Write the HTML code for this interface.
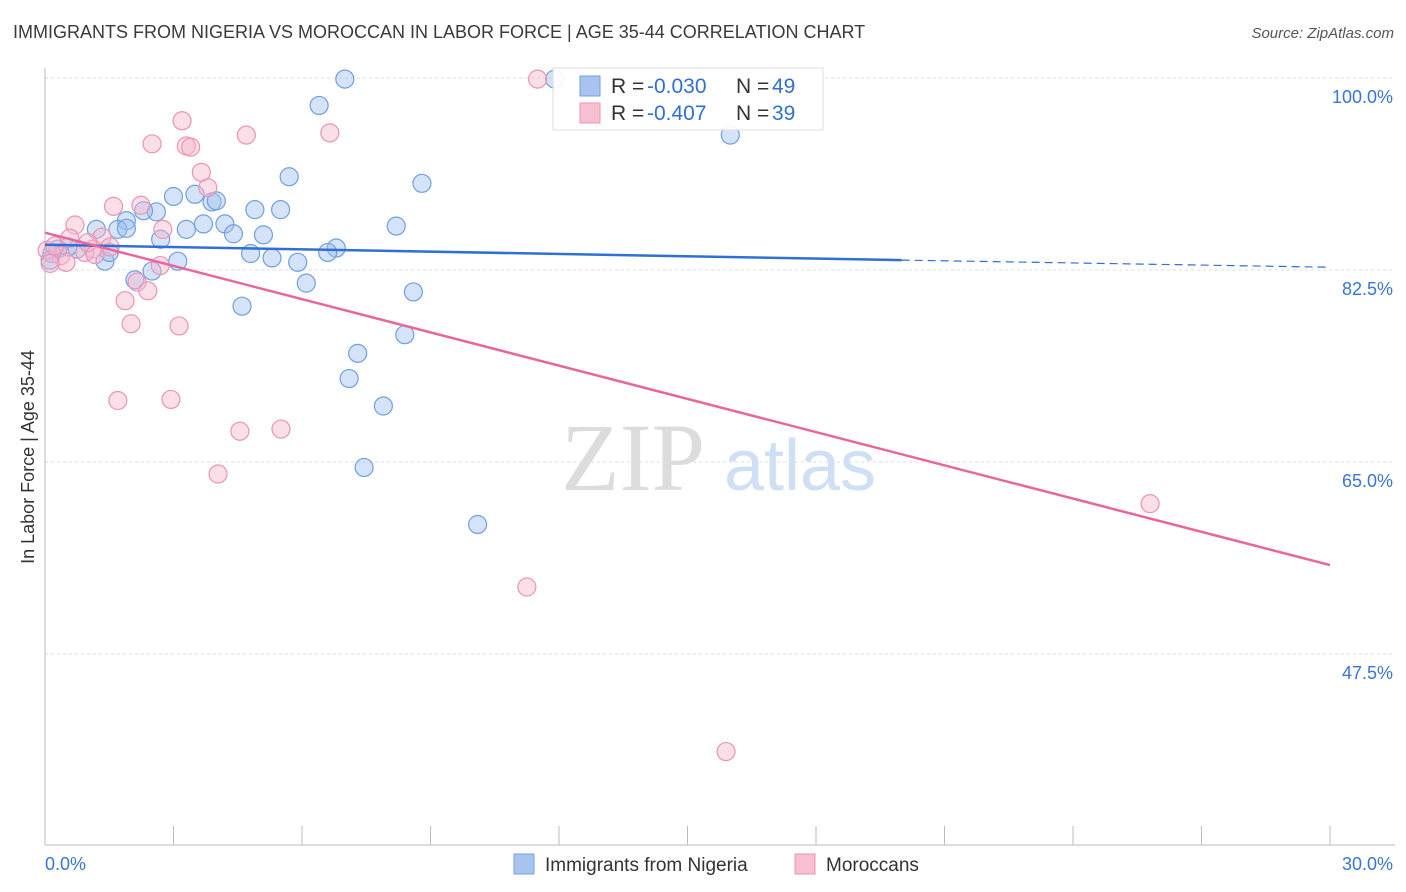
<!DOCTYPE html>
<html><head><meta charset="utf-8"><style>
body{margin:0;background:#fff;font-family:"Liberation Sans",sans-serif;}
#wrap{position:relative;width:1406px;height:892px;overflow:hidden;}
.t{position:absolute;white-space:nowrap;}
</style></head><body>
<div id="wrap">
<div class="t" style="left:13px;top:22px;font-size:18px;color:#3a3a3a;">IMMIGRANTS FROM NIGERIA VS MOROCCAN IN LABOR FORCE | AGE 35-44 CORRELATION CHART</div>
<div class="t" style="right:12px;top:25px;font-size:15px;color:#555;font-style:italic;">Source: ZipAtlas.com</div>
<svg id="svg" width="1406" height="892" style="position:absolute;left:0;top:0"></svg>
</div>
<script>
const xTicks=[0,3,6,9,12,15,18,21,24,27,30];
const yTicks=[100,82.5,65,47.5];
const yTickLabels=["100.0%","82.5%","65.0%","47.5%"];
const nigeriaX=[7.0,6.4,11.9,16.0,5.7,8.8,3.0,3.5,3.9,4.0,2.6,2.3,1.9,1.7,1.2,1.9,3.3,3.7,4.2,4.4,4.9,5.5,5.1,8.2,2.7,6.8,6.6,4.8,5.3,5.9,3.1,2.5,1.4,1.5,0.75,0.54,0.3,0.16,0.12,2.1,6.1,8.6,4.6,8.4,7.3,7.1,7.9,7.45,10.1];
const nigeriaY=[99.9,97.5,99.9,94.8,91.0,90.4,89.2,89.4,88.7,88.8,87.8,87.9,87.0,86.2,86.2,86.3,86.2,86.7,86.7,85.8,88.0,88.0,85.7,86.5,85.3,84.5,84.1,84.0,83.6,83.2,83.3,82.4,83.3,84.1,84.4,84.6,84.4,84.0,83.4,81.6,81.3,80.5,79.2,76.6,74.9,72.6,70.1,64.5,59.3];
const moroccoX=[11.5,4.7,6.65,3.2,2.5,3.3,3.4,3.65,3.8,1.6,2.24,0.7,2.75,1.33,1.12,0.93,0.37,0.49,1.52,2.69,2.15,2.4,1.87,2.01,3.13,1.7,2.94,4.55,5.51,4.04,25.8,11.25,15.9,0.05,0.23,1.0,1.17,0.58,0.12];
const moroccoY=[99.9,94.8,95.0,96.1,94.0,93.8,93.7,91.4,90.0,88.3,88.4,86.6,86.2,85.5,84.4,84.1,83.8,83.2,84.6,82.9,81.4,80.6,79.7,77.6,77.4,70.6,70.7,67.8,68.0,63.9,61.2,53.6,38.6,84.3,84.7,85.0,83.9,85.4,83.1];
const nigeriaLine=[[0,84.8],[20,83.4]];
const nigeriaDash=[[20,83.4],[30,82.75]];
const moroccoLine=[[0,85.9],[30,55.6]];

const X0=45,X1=1330,Y0=78,PPY=10.97;
const xs=v=>X0+(X1-X0)*v/30;
const ys=v=>Y0+(100-v)*PPY;
const svg=document.getElementById('svg');
const NS='http://www.w3.org/2000/svg';
function mk(tag,attrs){const e=document.createElementNS(NS,tag);for(const k in attrs)e.setAttribute(k,attrs[k]);svg.appendChild(e);return e;}
yTicks.forEach((v,i)=>{
 const g=mk('line',{x1:X0,x2:1395,y1:ys(v),y2:ys(v),stroke:'#dcdcdc','stroke-dasharray':'3,3'});
 
 
 const t=mk('text',{x:1393,y:ys(v)+25,'text-anchor':'end','font-size':18,fill:'#3a74d4'});
 t.textContent=yTickLabels[i];
 
 
});
const ax=mk('line',{x1:X0,x2:1395,y1:845,y2:845,stroke:'#bbb'});


const ay=mk('line',{x1:X0,x2:X0,y1:68,y2:845,stroke:'#bbb'});


xTicks.forEach(v=>{
 const l=mk('line',{x1:xs(v),x2:xs(v),y1:826,y2:845,stroke:'#bbb'});
 
 
});
[[0,'0.0%','start',45],[30,'30.0%','end',1393]].forEach(a=>{
 const t=mk('text',{x:a[3],y:870,'text-anchor':a[2],'font-size':18,fill:'#3a74d4'});
 t.textContent=a[1];
 
 
});
const yt=mk('text',{x:0,y:0,'font-size':18,fill:'#333','text-anchor':'middle',transform:'translate(34,457) rotate(-90)'});
yt.textContent='In Labor Force | Age 35-44';


const w1=mk('text',{x:633,y:490,'font-size':96,fill:'#dcdcdc','text-anchor':'middle','font-family':'Liberation Serif'});
w1.textContent='ZIP';


const w2=mk('text',{x:800,y:490,'font-size':72,fill:'#cfe0f5','text-anchor':'middle'});
w2.textContent='atlas';


nigeriaX.forEach((v,i)=>{
 const c=mk('circle',{cx:xs(v),cy:ys(nigeriaY[i]),r:9,fill:'rgba(160,192,238,0.45)',stroke:'#6f9fe2','stroke-width':1.2});
 
 
});
moroccoX.forEach((v,i)=>{
 const c=mk('circle',{cx:xs(v),cy:ys(moroccoY[i]),r:9,fill:'rgba(244,182,204,0.45)',stroke:'#eb94b2','stroke-width':1.2});
 
 
});
const l1=mk('line',{x1:xs(nigeriaLine[0][0]),y1:ys(nigeriaLine[0][1]),x2:xs(nigeriaLine[1][0]),y2:ys(nigeriaLine[1][1]),stroke:'#2f6fd6','stroke-width':2.5});


const l2=mk('line',{x1:xs(nigeriaDash[0][0]),y1:ys(nigeriaDash[0][1]),x2:xs(nigeriaDash[1][0]),y2:ys(nigeriaDash[1][1]),stroke:'#2f6fd6','stroke-width':1.2,'stroke-dasharray':'8,5'});


const l3=mk('line',{x1:xs(moroccoLine[0][0]),y1:ys(moroccoLine[0][1]),x2:xs(moroccoLine[1][0]),y2:ys(moroccoLine[1][1]),stroke:'#e8679a','stroke-width':2.5});


const lb=mk('rect',{x:553,y:68,width:270,height:62,fill:'rgba(255,255,255,0.92)',stroke:'#ddd'});


[[86,'#a8c4ee','#6f9fe2','-0.030','49'],[113,'#f7c0d2','#eb94b2','-0.407','39']].forEach(r=>{
 const s=mk('rect',{x:580,y:r[0]-10,width:20,height:20,fill:r[1],stroke:r[2]});
 
 
 [[611,'R =','#333'],[647,r[3],'#2f6fd6'],[736,'N =','#333'],[772,r[4],'#2f6fd6']].forEach(p=>{
  const t=mk('text',{x:p[0],y:r[0]+7,'font-size':21,fill:p[2]});
  t.textContent=p[1];
  
  
 });
});
[[514,'#a8c4ee','#6f9fe2','Immigrants from Nigeria',545],[795,'#f7c0d2','#eb94b2','Moroccans',826]].forEach(r=>{
 const s=mk('rect',{x:r[0],y:854,width:20,height:20,fill:r[1],stroke:r[2]});
 
 
 const t=mk('text',{x:r[4],y:871,'font-size':19,fill:'#333'});
 t.textContent=r[3];
 
 
});
</script>
</body></html>
